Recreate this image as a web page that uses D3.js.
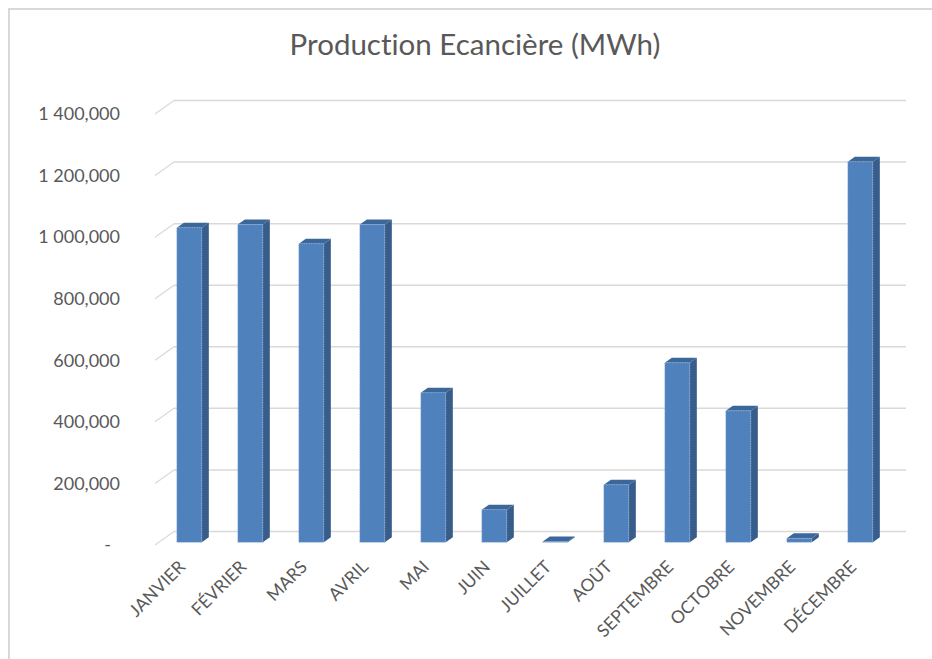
<!DOCTYPE html>
<html>
<head>
<meta charset="utf-8">
<script src="https://cdn.jsdelivr.net/npm/d3@7"></script>
<style>
  body { margin: 0; background: #fff; }
  svg { display: block; font-family: Lato, "Open Sans", sans-serif; font-variant-ligatures: none; }
  .tick text { fill: #595959; }
</style>
</head>
<body>
<svg width="932" height="659"></svg>
<script>
var months = ["JANVIER", "FÉVRIER", "MARS", "AVRIL", "MAI", "JUIN", "JUILLET", "AOÛT", "SEPTEMBRE", "OCTOBRE", "NOVEMBRE", "DÉCEMBRE"];
var production = [1022, 1032, 970, 1032, 486, 106, 3, 187, 583, 427, 13, 1236];
var yTicks = [0, 200, 400, 600, 800, 1000, 1200, 1400];

var svg = d3.select("svg"),
    width = +svg.attr("width"),
    height = +svg.attr("height");

// depth of the 3d box (front plane -> back wall)
var depthX = 19, depthY = -13.5;
// bar sits between these fractions of the depth
var barZ0 = 0.2, barZ1 = 0.57;

var x = d3.scaleBand()
    .domain(months)
    .range([155, 887])
    .paddingInner(0.59)
    .paddingOuter(0.295);

var y = d3.scaleLinear()
    .domain([0, 1400])
    .range([545, 114]);

var fr = d3.formatLocale({decimal: ",", thousands: " ", grouping: [3], currency: ["", ""]});
var fmt = fr.format(",.3f");

// frame
svg.append("path")
    .attr("d", "M9," + height + "V9H" + width)
    .attr("fill", "none")
    .attr("stroke", "#d9d9d9")
    .attr("stroke-width", 2);

// title
svg.append("text")
    .attr("x", 475)
    .attr("y", 55)
    .attr("text-anchor", "middle")
    .style("font-size", "29.5px")
    .style("fill", "#595959")
    .text("Production Ecancière (MWh)");

// back wall gridlines
var grid = svg.append("g").attr("class", "grid");
grid.selectAll("line.back")
    .data(yTicks)
    .enter().append("line")
    .attr("class", "back")
    .attr("x1", x.range()[0] + depthX)
    .attr("x2", x.range()[1] + depthX)
    .attr("y1", function(d) { return y(d) + depthY; })
    .attr("y2", function(d) { return y(d) + depthY; })
    .style("stroke", "#d9d9d9")
    .style("stroke-width", 1.5);

// side wall gridlines
grid.selectAll("line.side")
    .data(yTicks)
    .enter().append("line")
    .attr("class", "side")
    .attr("x1", x.range()[0])
    .attr("x2", x.range()[0] + depthX)
    .attr("y1", function(d) { return y(d); })
    .attr("y2", function(d) { return y(d) + depthY; })
    .style("stroke", "#d9d9d9")
    .style("stroke-width", 1.2);

// bars
var ox = depthX * barZ0, oy = depthY * barZ0;
var bdx = depthX * (barZ1 - barZ0), bdy = depthY * (barZ1 - barZ0);

var bar = svg.selectAll(".bar")
    .data(months.map(function(m, i) { return {month: m, value: production[i]}; }))
    .enter().append("g")
    .attr("class", "bar");

bar.each(function(d) {
    var g = d3.select(this);
    var xl = x(d.month) + ox,
        xr = xl + x.bandwidth(),
        yt = y(d.value) + oy,
        yb = y(0) + oy;

    g.append("polygon")
        .attr("points", [[xr, yt], [xr + bdx, yt + bdy], [xr + bdx, yb + bdy], [xr, yb]].join(" "))
        .style("fill", "#385d8a");

    g.append("polygon")
        .attr("points", [[xl, yt], [xl + bdx, yt + bdy], [xr + bdx, yt + bdy], [xr, yt]].join(" "))
        .style("fill", "#3c679b");

    g.append("rect")
        .attr("x", xl)
        .attr("y", yt)
        .attr("width", x.bandwidth())
        .attr("height", Math.max(0, yb - yt))
        .style("fill", "#4f81bd")
        .style("stroke", "#9db8dc")
        .style("stroke-width", 0.8)
        .style("stroke-dasharray", "1,1.5");
});

// y axis labels
var yAxis = svg.append("g")
    .attr("transform", "translate(120,0)")
    .call(d3.axisLeft(y)
        .tickValues(yTicks)
        .tickSize(0)
        .tickPadding(0)
        .tickFormat(function(d) { return d === 0 ? "-" : fmt(d); }));
yAxis.select(".domain").remove();
yAxis.selectAll("text")
    .style("font-size", "18px")
    .style("font-family", "Lato, sans-serif")
    .attr("dx", function(d) { return d === 0 ? "-9px" : 0; });

// x axis labels
var xAxis = svg.append("g")
    .attr("transform", "translate(" + (ox - 3) + ",568)")
    .call(d3.axisBottom(x).tickSize(0).tickPadding(0));
xAxis.select(".domain").remove();
xAxis.selectAll("text")
    .attr("x", 0)
    .attr("y", 0)
    .attr("dy", 0)
    .attr("text-anchor", "end")
    .attr("transform", "rotate(-45)")
    .style("font-size", "17.5px")
    .style("font-family", "Lato, sans-serif");
</script>
</body>
</html>
